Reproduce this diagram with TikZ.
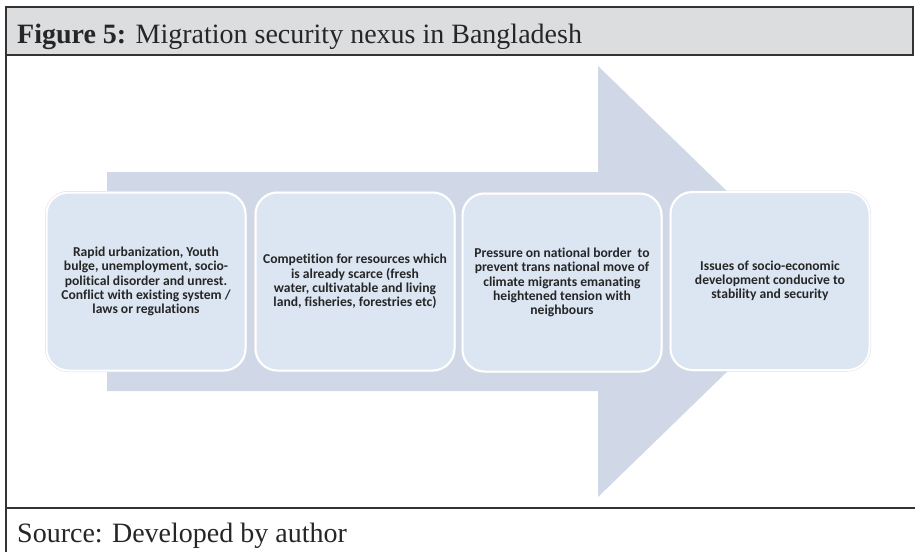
\documentclass[tikz,border=0pt]{standalone}
\usepackage{fontspec}
\setmainfont{Liberation Serif}
\newfontfamily\boxfont[Ligatures=NoCommon]{Carlito}
\definecolor{hdrgray}{HTML}{DCDDDF}
\definecolor{linegray}{HTML}{333333}
\definecolor{arrowfill}{HTML}{D0D8E8}
\definecolor{boxfill}{HTML}{DCE6F2}
\tikzset{
  frameline/.style={draw=linegray, line width=1.5pt},
  stepbox/.style={rectangle, rounded corners=22pt, minimum width=199pt, minimum height=178pt,
    fill=boxfill, draw=white, line width=2pt, align=center, inner sep=0pt,
    preaction={draw=black!12, line width=3pt},
    font=\boxfont\bfseries\fontsize{13.6}{14.2}\selectfont, text=black!85},
  captext/.style={anchor=base west, inner sep=0pt, font=\fontsize{28}{32}\selectfont, text=black!85}
}
\begin{document}
\begin{tikzpicture}[x=1pt,y=-1pt]
\useasboundingbox (0,0) rectangle (915,552);
\fill[white] (0,0) rectangle (915,552);
% header
\draw[frameline, fill=hdrgray] (6,7) rectangle (913,55);
\node[captext] (title) at (17,43) {\textbf{Figure 5:} Migration security nexus in Bangladesh};
% body and footer frame
\draw[frameline] (6,55) -- (6,552);
\draw[frameline] (6,508) -- (915,508);
\node[captext] (src) at (17,542) {Source: Developed by author};
% big arrow
\fill[arrowfill] (107,172) -- (598,172) -- (598,66) -- (820,281.5) -- (598,497) -- (598,391) -- (107,391) -- cycle;
% boxes
\node[stepbox] (b1) at (146,281.5) {Rapid urbanization, Youth\\bulge, unemployment, socio-\\political disorder and unrest.\\Conflict with existing system /\\laws or regulations};
\node[stepbox] (b2) at (355,281.5) {Competition for resources which\\is already scarce (fresh\\water, cultivatable and living\\land, fisheries, forestries etc)};
\node[stepbox] (b3) at (562,282.5) {Pressure on national border\ \ to\\prevent trans national move of\\climate migrants emanating\\heightened tension with\\neighbours};
\node[stepbox] (b4) at (770,281) {Issues of socio-economic\\development conducive to\\stability and security};
\end{tikzpicture}
\end{document}
